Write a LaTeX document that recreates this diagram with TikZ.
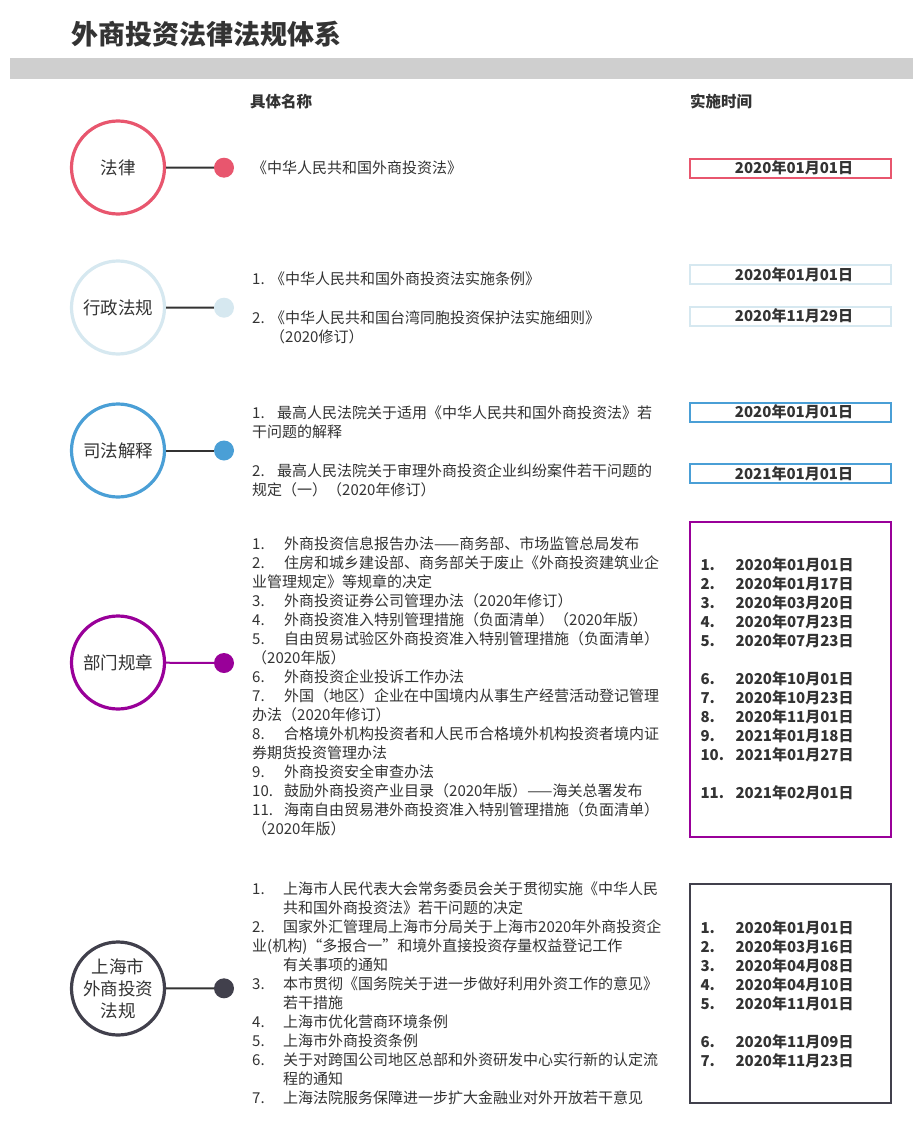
\documentclass[tikz,border=0pt]{standalone}
\usepackage{fontspec}
\setmainfont{Noto Sans CJK SC}
\usepackage{xcolor}
\usetikzlibrary{positioning}
\definecolor{lawred}{HTML}{E8566E}
\definecolor{admblue}{HTML}{D6E8F0}
\definecolor{judblue}{HTML}{4A9FD6}
\definecolor{deptpurple}{HTML}{990099}
\definecolor{shdark}{HTML}{41404C}
\definecolor{textgray}{HTML}{333333}
\definecolor{bargray}{HTML}{CFCFCF}
\newcommand{\numbox}[2][32pt]{\makebox[#1][l]{#2}}

\begin{document}
\begin{tikzpicture}[
    x=1pt, y=-1pt,
    cat/.style={circle, draw=#1, line width=3.2pt, minimum size=93pt, inner sep=0pt,
                fill=white, align=center, text=textgray, font=\fontsize{17.5}{22}\selectfont},
    dot/.style={circle, fill=#1, minimum size=20pt, inner sep=0pt},
    link/.style={draw=#1, line width=2pt},
    item/.style={anchor=base west, inner sep=0pt, align=left, text=textgray,
                 font=\fontsize{15}{19}\selectfont},
    datebox/.style={draw=#1, line width=2pt, minimum width=201pt, minimum height=19pt,
                    inner sep=0pt, text=textgray, font=\fontsize{15}{19}\selectfont\bfseries,
                    execute at begin node=\hspace*{8pt}},
    datelist/.style={draw=#1, line width=2pt, text width=179pt, inner xsep=11pt, inner ysep=0pt,
                     align=left, text=textgray, font=\fontsize{15}{19}\selectfont\bfseries},
    head/.style={anchor=west, inner sep=0pt, text=textgray, font=\fontsize{15.5}{18}\selectfont\bfseries},
]
    \fill[white] (0,0) rectangle (921,1129);
    \useasboundingbox (0,0) rectangle (921,1129);

    % title and header bar
    \node[anchor=west, inner sep=0pt, text=textgray, font=\fontsize{27}{30}\selectfont\bfseries]
        (title) at (71,34) {外商投资法律法规体系};
    \fill[bargray] (10,58.5) rectangle (913,79);
    \node[head] (namehead) at (250,101.7) {具体名称};
    \node[head] (datehead) at (690,101.7) {实施时间};

    % law (multi-line items sit on the baseline of their last line)
    \node[cat=lawred] (law) at (118,167.5) {法律};
    \node[dot=lawred] (lawdot) at (224,167.7) {};
    \draw[link=textgray] (law) -- (lawdot);
    \node[item] (lawtext) at (252,173.5) {《中华人民共和国外商投资法》};
    \node[datebox=lawred] (lawdate) at (790,168) {2020年01月01日};

    % administrative regulations
    \node[cat=admblue] (adm) at (118,307.5) {行政法规};
    \node[dot=admblue] (admdot) at (224,307.7) {};
    \draw[link=textgray] (adm) -- (admdot);
    \node[item] (admone) at (252,284.5) {\numbox[18pt]{1.}《中华人民共和国外商投资法实施条例》};
    \node[item] (admtwo) at (252,342)
        {\numbox[18pt]{2.}《中华人民共和国台湾同胞投资保护法实施细则》\\
         \hspace*{18pt}（2020修订）};
    \node[datebox=admblue] (admdateone) at (790,274.7) {2020年01月01日};
    \node[datebox=admblue] (admdatetwo) at (790,316.2) {2020年11月29日};

    % judicial interpretations
    \node[cat=judblue] (jud) at (118,450.5) {司法解释};
    \node[dot=judblue] (juddot) at (224,450.5) {};
    \draw[link=textgray] (jud) -- (juddot);
    \node[item] (judone) at (252,437.5)
        {\numbox[25pt]{1.}最高人民法院关于适用《中华人民共和国外商投资法》若\\
         干问题的解释};
    \node[item] (judtwo) at (252,495)
        {\numbox[25pt]{2.}最高人民法院关于审理外商投资企业纠纷案件若干问题的\\
         规定（一）（2020年修订）};
    \node[datebox=judblue] (juddateone) at (790,412) {2020年01月01日};
    \node[datebox=judblue] (juddatetwo) at (790,473.8) {2021年01月01日};

    % departmental rules
    \node[cat=deptpurple] (dept) at (118,662.5) {部门规章};
    \node[dot=deptpurple] (deptdot) at (224,663) {};
    \draw[link=deptpurple] (dept) -- (deptdot);
    \node[item] (depttext) at (252,834)
        {\numbox{1.}外商投资信息报告办法——商务部、市场监管总局发布\\
         \numbox{2.}住房和城乡建设部、商务部关于废止《外商投资建筑业企\\
         业管理规定》等规章的决定\\
         \numbox{3.}外商投资证券公司管理办法（2020年修订）\\
         \numbox{4.}外商投资准入特别管理措施（负面清单）（2020年版）\\
         \numbox{5.}自由贸易试验区外商投资准入特别管理措施（负面清单）\\
         （2020年版）\\
         \numbox{6.}外商投资企业投诉工作办法\\
         \numbox{7.}外国（地区）企业在中国境内从事生产经营活动登记管理\\
         办法（2020年修订）\\
         \numbox{8.}合格境外机构投资者和人民币合格境外机构投资者境内证\\
         券期货投资管理办法\\
         \numbox{9.}外商投资安全审查办法\\
         \numbox{10.}鼓励外商投资产业目录（2020年版）——海关总署发布\\
         \numbox{11.}海南自由贸易港外商投资准入特别管理措施（负面清单）\\
         （2020年版）};
    \node[datelist=deptpurple, minimum height=315pt] (deptdates) at (790,679.2)
        {\numbox[35pt]{1.}2020年01月01日\\
         \numbox[35pt]{2.}2020年01月17日\\
         \numbox[35pt]{3.}2020年03月20日\\
         \numbox[35pt]{4.}2020年07月23日\\
         \numbox[35pt]{5.}2020年07月23日\\[19pt]
         \numbox[35pt]{6.}2020年10月01日\\
         \numbox[35pt]{7.}2020年10月23日\\
         \numbox[35pt]{8.}2020年11月01日\\
         \numbox[35pt]{9.}2021年01月18日\\
         \numbox[35pt]{10.}2021年01月27日\\[19pt]
         \numbox[35pt]{11.}2021年02月01日};

    % Shanghai regulations
    \node[cat=shdark] (sh) at (118,988.5) {上海市\\外商投资\\法规};
    \node[dot=shdark] (shdot) at (224,988.3) {};
    \draw[link=textgray] (sh) -- (shdot);
    \node[item] (shtext) at (252,1103.5)
        {\numbox[31pt]{1.}上海市人民代表大会常务委员会关于贯彻实施《中华人民\\
         \hspace*{31pt}共和国外商投资法》若干问题的决定\\
         \numbox[31pt]{2.}国家外汇管理局上海市分局关于上海市2020年外商投资企\\
         业(机构)“多报合一”和境外直接投资存量权益登记工作\\
         \hspace*{31pt}有关事项的通知\\
         \numbox[31pt]{3.}本市贯彻《国务院关于进一步做好利用外资工作的意见》\\
         \hspace*{31pt}若干措施\\
         \numbox[31pt]{4.}上海市优化营商环境条例\\
         \numbox[31pt]{5.}上海市外商投资条例\\
         \numbox[31pt]{6.}关于对跨国公司地区总部和外资研发中心实行新的认定流\\
         \hspace*{31pt}程的通知\\
         \numbox[31pt]{7.}上海法院服务保障进一步扩大金融业对外开放若干意见};
    \node[datelist=shdark, minimum height=219pt] (shdates) at (790,993.8)
        {\numbox[35pt]{1.}2020年01月01日\\
         \numbox[35pt]{2.}2020年03月16日\\
         \numbox[35pt]{3.}2020年04月08日\\
         \numbox[35pt]{4.}2020年04月10日\\
         \numbox[35pt]{5.}2020年11月01日\\[19pt]
         \numbox[35pt]{6.}2020年11月09日\\
         \numbox[35pt]{7.}2020年11月23日};
\end{tikzpicture}
\end{document}
